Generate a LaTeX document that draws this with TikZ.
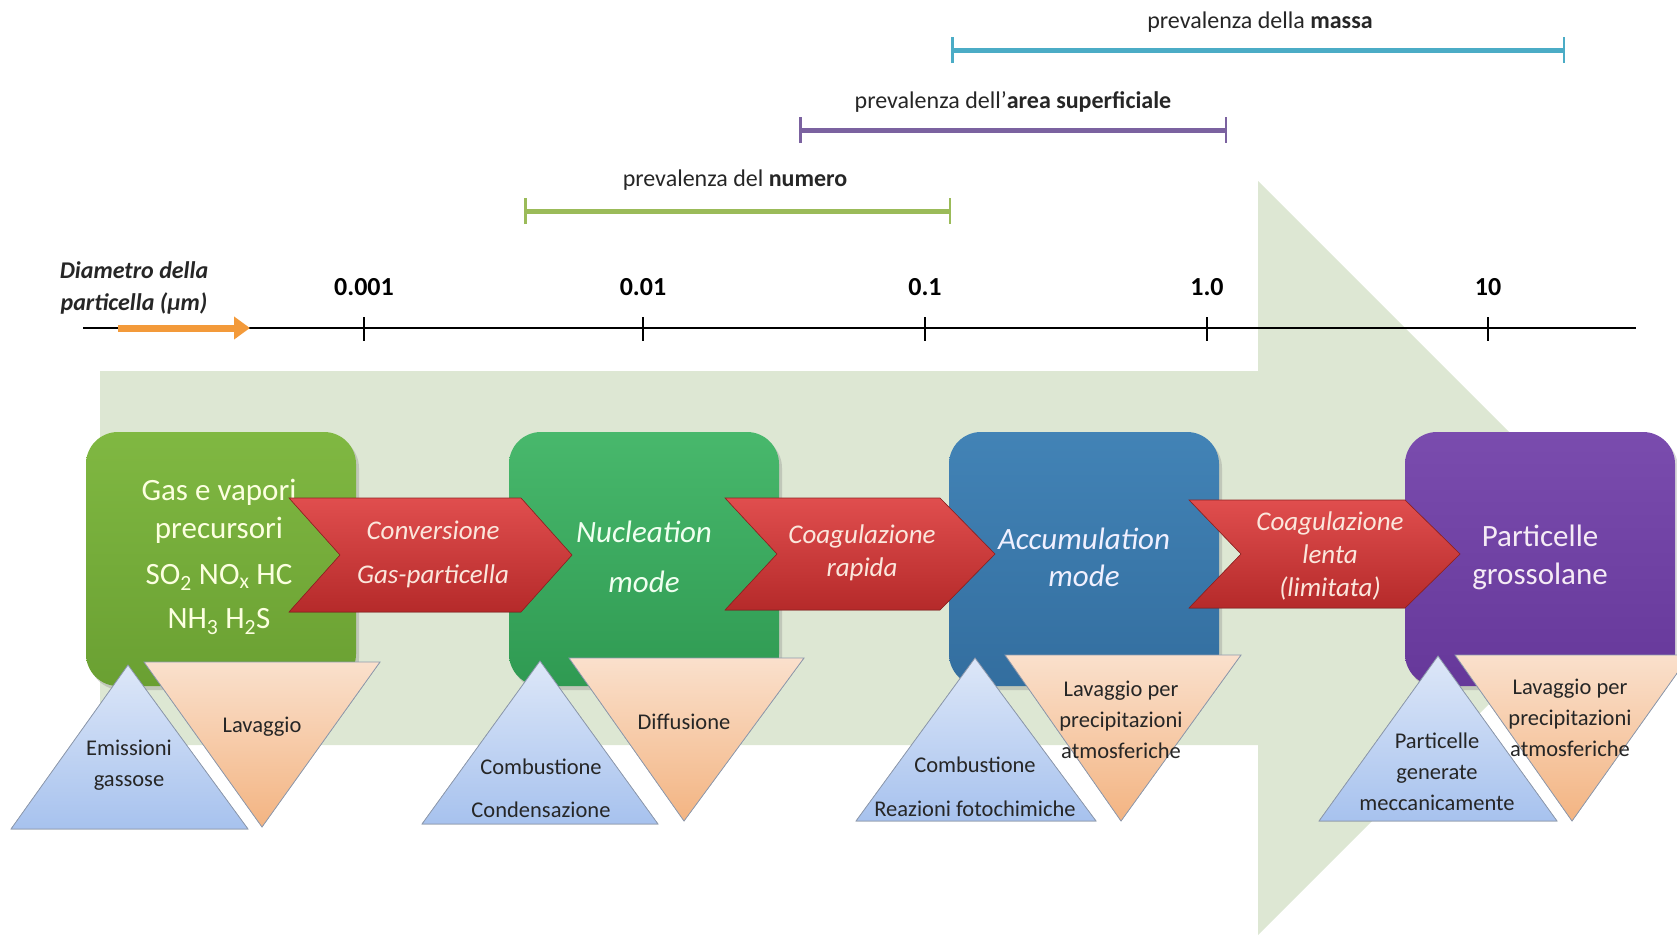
\documentclass[tikz,border=0pt]{standalone}
\usepackage{fontspec}
\setmainfont{Carlito}
\usetikzlibrary{arrows.meta,shadows}

\definecolor{bgarrow}{HTML}{DDE7D3}
\definecolor{numcol}{HTML}{9BBB59}
\definecolor{areacol}{HTML}{7B62A0}
\definecolor{masscol}{HTML}{4BACC6}
\definecolor{diamorange}{HTML}{F39A3A}
\definecolor{chevtop}{HTML}{E04E4E}
\definecolor{chevbot}{HTML}{B52A2A}
\definecolor{chevtext}{HTML}{FBE6DC}
\definecolor{gastop}{HTML}{80B842}
\definecolor{gasbot}{HTML}{6AA032}
\definecolor{nuctop}{HTML}{48B86C}
\definecolor{nucbot}{HTML}{2F9A52}
\definecolor{acctop}{HTML}{4283B6}
\definecolor{accbot}{HTML}{336E9F}
\definecolor{coatop}{HTML}{7A4CAE}
\definecolor{coabot}{HTML}{66389A}
\definecolor{bluetop}{HTML}{DDE7F8}
\definecolor{bluebot}{HTML}{A7C2EE}
\definecolor{peachtop}{HTML}{FAE0CC}
\definecolor{peachbot}{HTML}{F3B482}
\definecolor{triline}{HTML}{8E9AAE}
\definecolor{labgray}{HTML}{262626}

\tikzset{
  rangebar/.style={line width=5pt, {Bar[width=26pt,line width=2.5pt]}-{Bar[width=26pt,line width=2.5pt]}},
  barlab/.style={text=labgray, font=\fontsize{24}{28}\selectfont},
  ticklab/.style={font=\fontsize{26}{30}\selectfont\bfseries},
  modebox/.style={rounded corners=32pt, minimum width=270pt, minimum height=254pt,
    inner sep=0pt, drop shadow={opacity=0.3, shadow xshift=3pt, shadow yshift=-4pt}},
  boxtext/.style={align=center, font=\fontsize{31}{38}\selectfont},
  chev/.style={top color=chevtop, bottom color=chevbot, draw=chevbot!80!black, line width=0.6pt},
  chevtext/.style={align=center, text=chevtext, font=\fontsize{27}{33}\selectfont\itshape},
  uptri/.style={top color=bluetop, bottom color=bluebot, draw=triline, line width=0.8pt},
  downtri/.style={top color=peachtop, bottom color=peachbot, draw=triline, line width=0.8pt},
  tritext/.style={align=center, text=labgray, font=\fontsize{22.5}{31}\selectfont}
}

\begin{document}
\begin{tikzpicture}[x=1pt,y=-1pt]
\useasboundingbox (0,0) rectangle (1677,937);
\clip (0,0) rectangle (1677,937);

% big background arrow
\fill[bgarrow] (100,371) -- (1258,371) -- (1258,181) -- (1635,558)
  -- (1258,935) -- (1258,745) -- (100,745) -- cycle;

% prevalence ranges
\draw[rangebar, numcol] (524,211) -- (951,211);
\node[barlab] (numlab) at (735,180) {prevalenza del \textbf{numero}};
\draw[rangebar, areacol] (799,130) -- (1227,130);
\node[barlab] (arealab) at (1013,102) {prevalenza dell’\textbf{area superficiale}};
\draw[rangebar, masscol] (951,50) -- (1565,50);
\node[barlab] (masslab) at (1260,22) {prevalenza della \textbf{massa}};

% diameter axis
\draw[line width=1.4pt] (83,328) -- (1636,328);
\foreach \x/\lab [count=\i] in {364/0.001, 643/0.01, 925/0.1, 1207/1.0, 1488/10} {
  \draw[line width=1.4pt] (\x,317) -- (\x,341);
  \node[ticklab] (tick\i) at (\x,287) {\lab};
}
\draw[diamorange, line width=7pt, -{Triangle[length=16pt,width=22pt]}] (118,328) -- (250,328);
\node[align=center, text=labgray, font=\fontsize{24}{32}\selectfont\bfseries\itshape]
  (diam) at (134,288) {Diametro della\\particella (μm)};

% mode boxes
\node[modebox, top color=gastop, bottom color=gasbot] (gasbox) at (221,559) {};
\node[boxtext, text=green!10!yellow!12!white] (gastext) at (219,557)
  {Gas e vapori\\precursori\\[8pt]SO\textsubscript{2} NO\textsubscript{x} HC\\[6pt]NH\textsubscript{3} H\textsubscript{2}S};

\node[modebox, top color=nuctop, bottom color=nucbot] (nucbox) at (644,559) {};
\node[boxtext, text=green!6!white, font=\fontsize{31}{50}\selectfont\itshape] (nuctext) at (644,557) {Nucleation\\mode};

\node[modebox, top color=acctop, bottom color=accbot] (accbox) at (1084,559) {};
\node[boxtext, text=blue!6!white, font=\fontsize{31}{37}\selectfont\itshape] (acctext) at (1084,557) {Accumulation\\mode};

\node[modebox, top color=coatop, bottom color=coabot] (coabox) at (1540,559) {};
\node[boxtext, text=violet!8!white] (coatext) at (1540,557) {Particelle\\grossolane};

% transition chevrons
\filldraw[chev] (289,498) -- (521,498) -- (572,555) -- (521,612) -- (289,612) -- (340,555) -- cycle;
\node[chevtext, font=\fontsize{27}{44}\selectfont\itshape] (conv) at (433,554) {Conversione\\Gas-particella};
\filldraw[chev] (725,498) -- (940,498) -- (995,554) -- (940,610) -- (725,610) -- (777,554) -- cycle;
\node[chevtext] (rapid) at (862,553) {Coagulazione\\rapida};
\filldraw[chev] (1189,500) -- (1405,500) -- (1460,554) -- (1405,608) -- (1189,608) -- (1241,554) -- cycle;
\node[chevtext] (slow) at (1330,556) {Coagulazione\\lenta\\(limitata)};

% sources (blue) and sinks (peach)
\filldraw[uptri] (128,665) -- (248,829) -- (11,829) -- cycle;
\node[tritext] (src1) at (129,765) {Emissioni\\gassose};
\filldraw[downtri] (144,662) -- (380,662) -- (262,827) -- cycle;
\node[tritext] (snk1) at (262,727) {Lavaggio};

\filldraw[uptri] (540,661) -- (658,824) -- (422,824) -- cycle;
\node[tritext, font=\fontsize{22.5}{43}\selectfont] (src2) at (541,788) {Combustione\\Condensazione};
\filldraw[downtri] (569,658) -- (804,658) -- (684,821) -- cycle;
\node[tritext] (snk2) at (684,722) {Diffusione};

\filldraw[uptri] (975,658) -- (1096,821) -- (856,821) -- cycle;
\node[tritext, font=\fontsize{22.5}{44}\selectfont] (src3) at (975,787) {Combustione\\Reazioni fotochimiche};
\filldraw[downtri] (1005,655) -- (1241,655) -- (1121,821) -- cycle;
\node[tritext] (snk3) at (1121,720) {Lavaggio per\\precipitazioni\\atmosferiche};

\filldraw[uptri] (1438,656) -- (1557,821) -- (1319,821) -- cycle;
\node[tritext] (src4) at (1437,772) {Particelle\\generate\\meccanicamente};
\filldraw[downtri] (1455,655) -- (1690,655) -- (1572,821) -- cycle;
\node[tritext] (snk4) at (1570,718) {Lavaggio per\\precipitazioni\\atmosferiche};
\end{tikzpicture}
\end{document}
